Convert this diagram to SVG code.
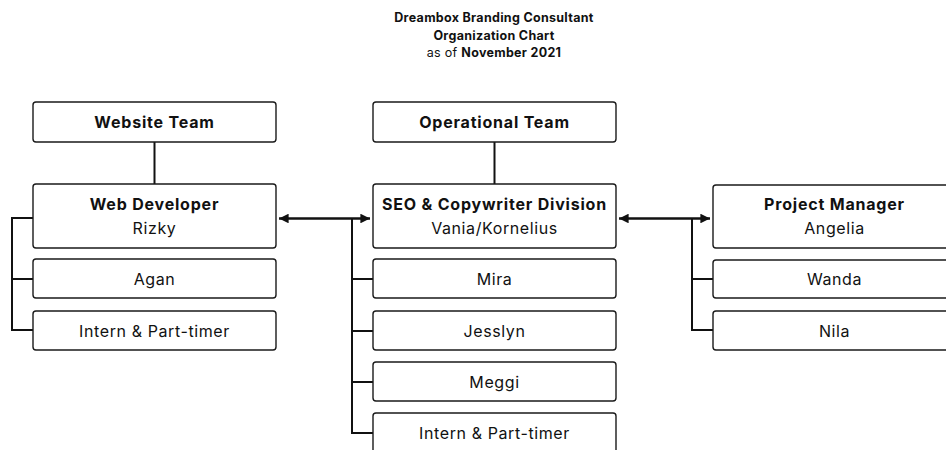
<svg xmlns="http://www.w3.org/2000/svg" width="946" height="450" viewBox="0 0 946 450">
  <style>
    .box { fill: #ffffff; stroke: #1a1a1a; stroke-width: 1.4; }
    .t { font-family: Inter, "Liberation Sans", Arial, sans-serif; font-size: 16px; letter-spacing: 0.6px; fill: #111; text-anchor: middle; }
    .b { font-weight: 700; letter-spacing: 0.8px; }
    .title { font-family: Inter, "Liberation Sans", Arial, sans-serif; font-size: 12.5px; letter-spacing: 0.3px; fill: #111; text-anchor: middle; }
    .link { fill: none; stroke: #111; stroke-width: 2; }
    .arrow { fill: none; stroke: #111; stroke-width: 2.4; }
  </style>
  <defs>
    <marker id="head" viewBox="0 0 10 10" refX="10" refY="5" markerWidth="4" markerHeight="4" orient="auto-start-reverse" markerUnits="strokeWidth">
      <path d="M0,0 L10,5 L0,10 Z" fill="#111"/>
    </marker>
  </defs>
  <rect width="946" height="450" fill="#ffffff"/>

  <g id="title">
    <text class="title b" x="494" y="22">Dreambox Branding Consultant</text>
    <text class="title b" x="494" y="40">Organization Chart</text>
    <text class="title" x="494" y="57">as of <tspan font-weight="700">November 2021</tspan></text>
  </g>

  <g id="connectors">
    <!-- team to lead -->
    <path class="link" d="M154.5,142 V184"/>
    <path class="link" d="M494.5,142 V184"/>
    <!-- website team bracket -->
    <path class="link" d="M33,218 H12 V330 H33 M12,279 H33"/>
    <!-- operational bracket -->
    <path class="link" d="M352,219 V433 H373 M352,279 H373 M352,331 H373 M352,382 H373"/>
    <!-- project bracket -->
    <path class="link" d="M692,218 V330 H713 M692,279 H713"/>
    <!-- cross-team arrows -->
    <path class="arrow" d="M279,218.5 H370" marker-start="url(#head)" marker-end="url(#head)"/>
    <path class="arrow" d="M619,218.5 H710" marker-start="url(#head)" marker-end="url(#head)"/>
  </g>

  <g id="website-team">
    <rect class="box" x="33" y="102" width="243" height="40" rx="3"/>
    <text class="t b" x="154.5" y="128">Website Team</text>
  </g>
  <g id="web-developer">
    <rect class="box" x="33" y="184" width="243" height="64" rx="3"/>
    <text class="t b" x="154.5" y="210">Web Developer</text>
    <text class="t" x="154.5" y="234">Rizky</text>
  </g>
  <g id="agan">
    <rect class="box" x="33" y="259" width="243" height="39" rx="3"/>
    <text class="t" x="154.5" y="284.5">Agan</text>
  </g>
  <g id="web-intern">
    <rect class="box" x="33" y="311" width="243" height="39" rx="3"/>
    <text class="t" x="154.5" y="336.5">Intern &amp; Part-timer</text>
  </g>

  <g id="operational-team">
    <rect class="box" x="373" y="102" width="243" height="40" rx="3"/>
    <text class="t b" x="494.5" y="128">Operational Team</text>
  </g>
  <g id="seo-division">
    <rect class="box" x="373" y="184" width="243" height="64" rx="3"/>
    <text class="t b" x="494.5" y="210">SEO &amp; Copywriter Division</text>
    <text class="t" x="494.5" y="234">Vania/Kornelius</text>
  </g>
  <g id="mira">
    <rect class="box" x="373" y="259" width="243" height="39" rx="3"/>
    <text class="t" x="494.5" y="284.5">Mira</text>
  </g>
  <g id="jesslyn">
    <rect class="box" x="373" y="311" width="243" height="39" rx="3"/>
    <text class="t" x="494.5" y="336.5">Jesslyn</text>
  </g>
  <g id="meggi">
    <rect class="box" x="373" y="362" width="243" height="39" rx="3"/>
    <text class="t" x="494.5" y="387.5">Meggi</text>
  </g>
  <g id="seo-intern">
    <rect class="box" x="373" y="413" width="243" height="40" rx="3"/>
    <text class="t" x="494.5" y="438.5">Intern &amp; Part-timer</text>
  </g>

  <g id="project-manager">
    <rect class="box" x="713" y="185" width="243" height="63" rx="3"/>
    <text class="t b" x="834.5" y="210">Project Manager</text>
    <text class="t" x="834.5" y="234">Angelia</text>
  </g>
  <g id="wanda">
    <rect class="box" x="713" y="260" width="243" height="38" rx="3"/>
    <text class="t" x="834.5" y="284.5">Wanda</text>
  </g>
  <g id="nila">
    <rect class="box" x="713" y="311" width="243" height="39" rx="3"/>
    <text class="t" x="834.5" y="336.5">Nila</text>
  </g>
</svg>
